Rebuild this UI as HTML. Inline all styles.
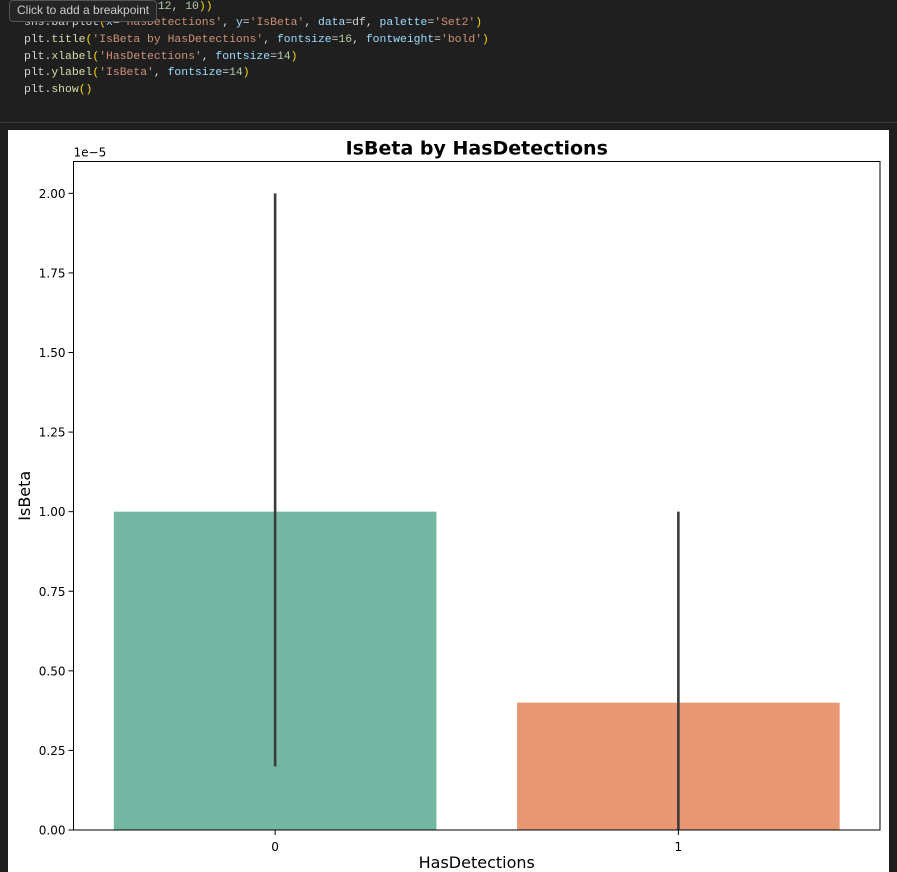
<!DOCTYPE html>
<html><head><meta charset="utf-8"><style>
body{margin:0;width:897px;height:872px;background:#1f1f1f;overflow:hidden;position:relative;font-family:"DejaVu Sans","Liberation Sans",sans-serif}
.code{position:absolute;left:24px;font-family:"Liberation Mono","DejaVu Sans Mono",monospace;font-size:11.4px;color:#d4d4d4;white-space:pre}
.s{color:#ce9178}.k{color:#9cdcfe}.f{color:#dcdcaa}.p{color:#ffd700}.n{color:#b5cea8}
</style></head><body>
<div>
<div class="code" style="top:1px;left:151px"><span class="p">(</span><span class="n">12</span>, <span class="n">10</span><span class="p">))</span></div>
<div class="code" style="top:17px">sns.barplot<span class="p">(</span><span class="k">x</span>=<span class="s">'HasDetections'</span>, <span class="k">y</span>=<span class="s">'IsBeta'</span>, <span class="k">data</span>=df, <span class="k">palette</span>=<span class="s">'Set2'</span><span class="p">)</span></div>
<div class="code" style="top:34px">plt.<span class="f">title</span><span class="p">(</span><span class="s">'IsBeta by HasDetections'</span>, <span class="k">fontsize</span>=<span class="n">16</span>, <span class="k">fontweight</span>=<span class="s">'bold'</span><span class="p">)</span></div>
<div class="code" style="top:51px">plt.<span class="f">xlabel</span><span class="p">(</span><span class="s">'HasDetections'</span>, <span class="k">fontsize</span>=<span class="n">14</span><span class="p">)</span></div>
<div class="code" style="top:67px">plt.<span class="f">ylabel</span><span class="p">(</span><span class="s">'IsBeta'</span>, <span class="k">fontsize</span>=<span class="n">14</span><span class="p">)</span></div>
<div class="code" style="top:84px">plt.<span class="f">show</span><span class="p">()</span></div>
</div>
<div style="position:absolute;left:9px;top:0;height:20px;padding:0 7px;border:1px solid #555;border-radius:4px;background:#252526;color:#ccc;font-family:'Liberation Sans',sans-serif;font-size:12px;line-height:19px">Click to add a breakpoint</div>
<div style="position:absolute;left:0;top:122px;width:897px;height:1px;background:#3a3a3a"></div>
<svg style="position:absolute;left:0;top:0" width="897" height="872">
<rect x="8" y="130" width="881" height="742" fill="#fff"/>
<g id="g"></g>
</svg>
<script>
const categories=["0","1"];
const values=[1.0,0.4];
const errLow=[0.2,0.0];
const errHigh=[2.0,1.0];
const yTicks=[0,0.25,0.5,0.75,1.0,1.25,1.5,1.75,2.0];
const colors=["#73b6a2","#e89773"];
const L=73.5,R=880,T=161.5,B=830,yMax=2.1;
const X=i=>L+(i+0.5)*(R-L)/2;
const Y=v=>B-v/yMax*(B-T);
const g=document.getElementById('g');
const NS='http://www.w3.org/2000/svg';
function mk(t,a){const e=document.createElementNS(NS,t);for(const k in a)e.setAttribute(k,a[k]);g.appendChild(e);return e;}
const bw=0.8*(R-L)/2;
categories.forEach((c,i)=>{
 const r=mk('rect',{x:X(i)-bw/2,y:Y(values[i]),width:bw,height:B-Y(values[i]),fill:colors[i]});
 
 
 const l=mk('line',{x1:X(i),x2:X(i),y1:Y(errLow[i]),y2:Y(errHigh[i]),stroke:'#3c3c3c','stroke-width':2.6});
 
 
 mk('line',{x1:X(i),x2:X(i),y1:B,y2:B+5,stroke:'#000'});
 const t=mk('text',{x:X(i),y:B+21,'text-anchor':'middle','font-size':12,fill:'#000'});
 t.textContent=c;
 
 
});
yTicks.forEach(v=>{
 mk('line',{x1:L-5,x2:L,y1:Y(v),y2:Y(v),stroke:'#000'});
 const t=mk('text',{x:L-8,y:Y(v)+4.5,'text-anchor':'end','font-size':12,fill:'#000'});
 t.textContent=v.toFixed(2);
 
 
});
const f=mk('rect',{x:L,y:T,width:R-L,height:B-T,fill:'none',stroke:'#000','stroke-width':1});


let t=mk('text',{x:L,y:T-5,'font-size':12});t.textContent='1e\u22125';


t=mk('text',{x:(L+R)/2,y:T-7,'text-anchor':'middle','font-size':19,'font-weight':'bold'});t.textContent='IsBeta by HasDetections';


t=mk('text',{x:(L+R)/2,y:868,'text-anchor':'middle','font-size':16});t.textContent='HasDetections';


t=mk('text',{x:30,y:(T+B)/2,'text-anchor':'middle','font-size':16,transform:'rotate(-90 30 '+((T+B)/2)+')'});t.textContent='IsBeta';


</script>
</body></html>
